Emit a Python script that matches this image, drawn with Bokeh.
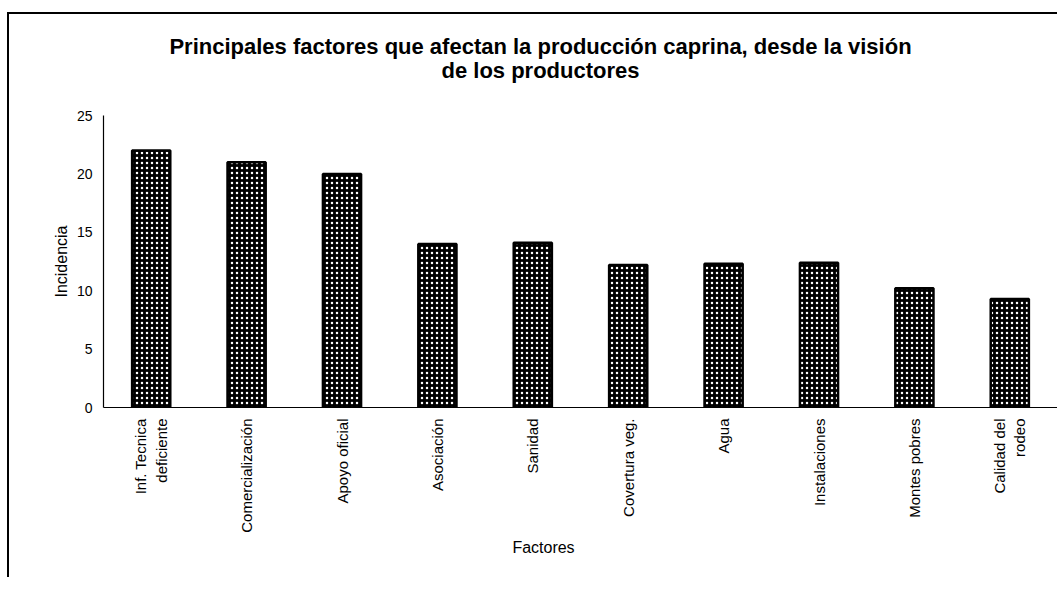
import math
from bokeh.plotting import figure
from bokeh.layouts import column
from bokeh.models import FactorRange, Range1d, FixedTicker
from bokeh.core.properties import value
from bokeh.embed import file_html
from bokeh.resources import INLINE

categories = ["Inf. Tecnica\ndeficiente", "Comercialización", "Apoyo oficial", "Asociación",
              "Sanidad", "Covertura veg.", "Agua", "Instalaciones", "Montes pobres",
              "Calidad del\nrodeo"]
incidencia = [22, 21, 20, 14, 14.1, 12.2, 12.3, 12.4, 10.2, 9.3]
y_ticks = [0, 5, 10, 15, 20, 25]
title_lines = ["Principales factores que afectan la producción caprina, desde la visión",
               "de los productores"]
x_title = "Factores"
y_title = "Incidencia"

FONT = "Liberation Sans"
W = 1048
LEFT = 94
FRAME_W = W - LEFT


def text_panel(height):
    f = figure(width=W, height=height, output_backend="svg", toolbar_location=None,
               x_range=Range1d(0, FRAME_W), y_range=Range1d(height, 0),
               x_axis_location=None, y_axis_location=None,
               min_border_left=LEFT, min_border_right=0, min_border_top=0, min_border_bottom=0,
               outline_line_color=None,
               background_fill_color="white", border_fill_color="white")
    f.grid.visible = False
    return f


# Title panel
head = text_panel(91)
head.text(x=[437, 437], y=[32, 56], text=title_lines, text_align="center",
          text_baseline="middle", text_font=value(FONT), text_font_size="22px",
          text_font_style="bold", text_color="black")

# Main chart
p = figure(width=W, height=432, output_backend="svg", toolbar_location=None,
           x_range=FactorRange(factors=categories, range_padding=0),
           y_range=Range1d(0, 25),
           min_border_left=LEFT, min_border_right=0, min_border_top=10, min_border_bottom=130,
           background_fill_color="white", border_fill_color="white")
p.outline_line_color = None
p.xgrid.grid_line_color = None
p.ygrid.grid_line_color = None

p.vbar(x=categories, top=incidencia, width=0.4, bottom=0,
       fill_color="black", line_color="black", line_width=2.5,
       hatch_pattern="dot", hatch_color="white", hatch_scale=5, hatch_weight=1.2)

p.yaxis.ticker = FixedTicker(ticks=y_ticks)
p.yaxis.major_tick_line_color = None
p.yaxis.minor_tick_line_color = None
p.yaxis.axis_line_color = "black"
p.yaxis.axis_line_width = 1.2
p.yaxis.major_label_text_font = FONT
p.yaxis.major_label_text_font_size = "14px"
p.yaxis.major_label_text_color = "black"
p.yaxis.major_label_standoff = 5
p.yaxis.axis_label = y_title
p.yaxis.axis_label_text_font = FONT
p.yaxis.axis_label_text_font_size = "16px"
p.yaxis.axis_label_text_font_style = "normal"
p.yaxis.axis_label_text_color = "black"
p.yaxis.axis_label_standoff = 4

p.xaxis.major_tick_line_color = None
p.xaxis.axis_line_color = "black"
p.xaxis.axis_line_width = 1.2
p.xaxis.major_label_orientation = math.pi / 2
p.xaxis.major_label_text_font = FONT
p.xaxis.major_label_text_font_size = "15px"
p.xaxis.major_label_text_color = "black"
p.xaxis.major_label_standoff = 5

# Footer (x axis title)
foot = text_panel(40)
foot.text(x=[440], y=[10], text=[x_title], text_align="center", text_baseline="middle",
          text_font=value(FONT), text_font_size="16px", text_color="black")

layout = column(head, p, foot, spacing=0,
                styles={"border-top": "2px solid black", "border-left": "2px solid black",
                        "margin-left": "7px", "margin-top": "12px"})

open("out.html", "w").write(file_html(layout, INLINE))
